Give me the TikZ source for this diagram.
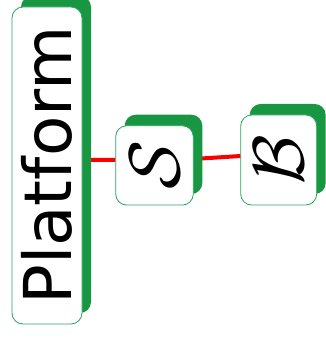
\documentclass[tikz,border=0pt]{standalone}
\usepackage{fontspec}
\newfontfamily\platfont{DejaVu Sans}
\usetikzlibrary{shadows,backgrounds}
\definecolor{shgreen}{RGB}{25,150,65}
\definecolor{bordgreen}{RGB}{40,165,95}
\definecolor{linkred}{RGB}{250,0,0}
\tikzset{
  box/.style={draw=bordgreen, line width=0.8pt, fill=white, rounded corners=11pt,
    inner sep=0pt, outer sep=0pt,
    drop shadow={shadow xshift=9pt, shadow yshift=11pt, fill=shgreen, opacity=1}},
  link/.style={draw=linkred, line width=4pt}
}
\begin{document}
\begin{tikzpicture}[x=1pt,y=1pt]
\useasboundingbox (0,0) rectangle (326,338);
\node[box, minimum width=70pt, minimum height=317pt] (p) at (47,172.5)
  {\rotatebox{90}{\fontsize{66}{66}\selectfont\platfont Platform}};
\node[box, minimum width=77.6pt, minimum height=79.3pt] (s) at (154.5,172.6)
  {\rotatebox{90}{\scalebox{7.2}{$\mathcal{S}$}}};
\node[box, minimum width=76pt, minimum height=90pt] (b) at (278.7,178)
  {\rotatebox{90}{\scalebox{7.2}{$\mathcal{B}$}}};
\begin{pgfonlayer}{background}
\draw[link] ([yshift=5.5pt]p.east) -- ([yshift=5.5pt]s.west);
\draw[link] ([yshift=6.4pt]s.east) -- ([yshift=4pt]b.west);
\end{pgfonlayer}
\end{tikzpicture}
\end{document}
